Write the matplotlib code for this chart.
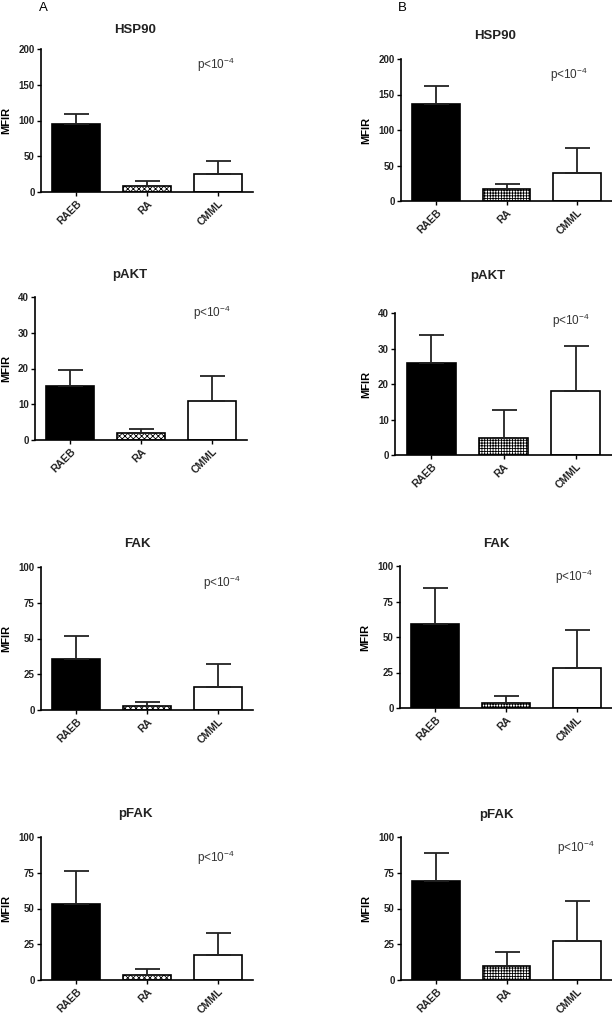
import numpy as np
import matplotlib.pyplot as plt

plt.rcParams['font.family'] = ['Liberation Sans', 'DejaVu Sans']
plt.rcParams['mathtext.fontset'] = 'custom'
plt.rcParams['mathtext.rm'] = 'Liberation Sans'
plt.rcParams['mathtext.it'] = 'Liberation Sans'

# groups and values (MFIR, mean and upper error)
groups = ["RAEB", "RA", "CMML"]
markers = ["HSP90", "pAKT", "FAK", "pFAK"]

means_A = [[95, 9, 25], [15, 1.9, 11], [36, 3, 16.4], [53, 3.3, 17.6]]
errs_A = [[14, 6, 18], [4.7, 1.1, 6.9], [15.5, 2.4, 15.5], [23, 4.2, 15.4]]
means_B = [[137, 17, 39], [26, 4.8, 18], [59.5, 3.3, 28.5], [69.5, 10, 27.5]]
errs_B = [[25, 7, 36], [7.8, 7.8, 12.7], [25.3, 5.1, 26.2], [19.3, 9.6, 27.5]]

yticks = [[0, 50, 100, 150, 200], [0, 10, 20, 30, 40],
          [0, 25, 50, 75, 100], [0, 25, 50, 75, 100]]

W, H = 612, 1017
fig = plt.figure(figsize=(W / 100, H / 100), dpi=100)

# axes boxes in pixels: left, right, top, bottom
boxes_A = [(41, 253, 49, 192), (35, 247, 297, 440), (41, 253, 567, 710), (41, 253, 837, 980)]
boxes_B = [(401, 612, 59, 201), (395, 612, 313, 455), (400, 612, 566, 708), (401, 612, 837, 980)]
# title centres and p-value text positions (pixels)
titles_A = [(135, 30), (130, 275), (137, 544), (135, 814)]
titles_B = [(495, 36), (488, 276), (496, 544), (496, 815)]
ptext_A = [(197, 65), (193, 313), (203, 583), (197, 858)]
ptext_B = [(550, 75), (552, 321), (555, 577), (557, 848)]


def panel(box, title_pos, p_pos, means, errs, ticks, name, hatch):
    l, r, t, b = box
    ax = fig.add_axes([l / W, 1 - b / H, (r - l) / W, (b - t) / H])
    x = np.arange(len(groups))
    ax.bar(x, means, width=0.68, color=["black", "white", "white"],
           edgecolor="black", linewidth=1.2, hatch=[None, hatch, None])
    ax.errorbar(x, means, yerr=[np.zeros(3), errs], fmt="none",
                ecolor="#222222", elinewidth=1.3, capsize=9, capthick=1.3)
    ax.set_xlim(-0.5, 2.5)
    ax.set_ylim(0, ticks[-1])
    ax.set_yticks(ticks)
    ax.set_yticklabels([str(v) for v in ticks], fontsize=7, fontweight="bold",
                       color="#222222")
    ax.set_xticks(x)
    ax.set_xticklabels(groups, rotation=45, ha="right", rotation_mode="anchor",
                       fontsize=7.5, fontweight="bold", color="#222222")
    ax.spines["top"].set_visible(False)
    ax.spines["right"].set_visible(False)
    ax.spines["left"].set_linewidth(1.2)
    ax.spines["bottom"].set_linewidth(1.2)
    ax.tick_params(axis="both", length=3, width=1.0, pad=1.5)
    ax.set_ylabel("MFIR", fontsize=8, fontweight="bold", labelpad=5)
    cx, cy = title_pos
    fig.text(cx / W, 1 - cy / H, name, ha="center", va="center",
             fontsize=9.5, fontweight="bold", color="#222222")
    px, py = p_pos
    fig.text(px / W, 1 - py / H, r"p<10$^{-4}$", ha="left", va="center",
             fontsize=8.5, color="#333333")
    return ax


plt.rcParams['hatch.linewidth'] = 0.6
for i in range(4):
    panel(boxes_A[i], titles_A[i], ptext_A[i], means_A[i], errs_A[i],
          yticks[i], markers[i], "xxxxxx")
    panel(boxes_B[i], titles_B[i], ptext_B[i], means_B[i], errs_B[i],
          yticks[i], markers[i], "++++++")

fig.text(43 / W, 1 - 8 / H, "A", ha="center", va="center", fontsize=9.5)
fig.text(402 / W, 1 - 8 / H, "B", ha="center", va="center", fontsize=9.5)

fig.savefig("out.png", dpi=100)
